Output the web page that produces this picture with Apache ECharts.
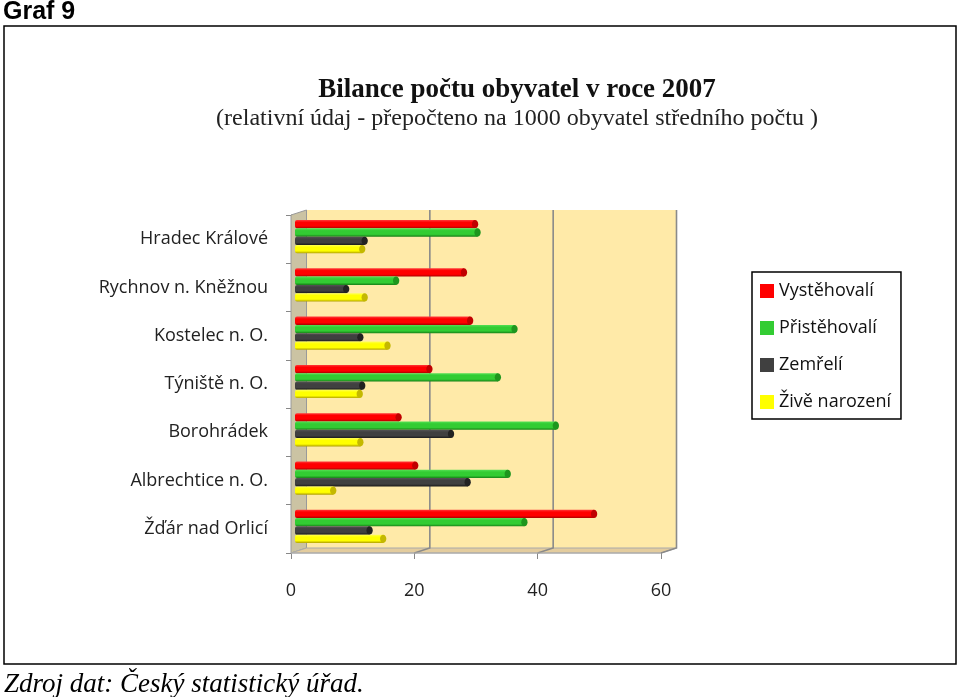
<!DOCTYPE html>
<html><head><meta charset="utf-8">
<script src="https://cdn.jsdelivr.net/npm/echarts@6/dist/echarts.min.js"></script>
<style>html,body{margin:0;padding:0;background:#fff}#c{width:959px;height:697px}</style>
</head><body><div id="c"></div>
<script>
const categories = ['Hradec Králové','Rychnov n. Kněžnou','Kostelec n. O.','Týniště n. O.','Borohrádek','Albrechtice n. O.','Žďár nad Orlicí'];
const seriesNames = ['Vystěhovalí','Přistěhovalí','Zemřelí','Živě narození'];
const vystehovali = [29.2, 27.4, 28.4, 21.8, 16.8, 19.5, 48.5];
const pristehovali = [29.6, 16.4, 35.6, 32.9, 42.3, 34.5, 37.2];
const zemreli = [11.3, 8.3, 10.6, 10.9, 25.3, 28.0, 12.1];
const zive = [10.9, 11.3, 15.0, 10.5, 10.6, 6.2, 14.3];
const xTicks = [0, 20, 40, 60];

(function(){
const palettes = [
  {c:'#FF0000', hi:'#FF3A3A', lo:'#A80000', cap:'#C00000'},
  {c:'#33CC33', hi:'#55E055', lo:'#168016', cap:'#1E961E'},
  {c:'#404040', hi:'#555555', lo:'#1A1A1A', cap:'#222222'},
  {c:'#FFFF00', hi:'#FFFF55', lo:'#B0A000', cap:'#C4B800'}
];
const allValues = [vystehovali, pristehovali, zemreli, zive];

function makeRender(si){
  const p = palettes[si];
  return function(params, api){
    const val = api.value(0), cat = api.value(1);
    const base = api.coord([0, cat]);
    const end = api.coord([val, cat]);
    const band = api.size([0, 1])[1];
    const pitch = band * 0.172;
    const h = pitch;
    const dx = 4;
    const yc = base[1] + (si - 1.5) * pitch - 2.5;
    const bx0 = base[0] + dx, bx1 = end[0] + dx;
    const rx = h * 0.38;
    return {
      type: 'group',
      children: [
        {type:'rect', shape:{x:bx0, y:yc - h/2, width:Math.max(0, bx1 - bx0), height:h, r:[2,0,0,2]},
         style:{fill:new echarts.graphic.LinearGradient(0,0,0,1,[
           {offset:0,color:p.hi},{offset:0.28,color:p.c},{offset:0.72,color:p.c},{offset:1,color:p.lo}])}},
        {type:'ellipse', shape:{cx:bx1, cy:yc, rx:rx, ry:h/2},
         style:{fill:p.cap}}
      ]
    };
  };
}

const chart = echarts.init(document.getElementById('c'));
const series = seriesNames.map((n, si) => ({
  name: n, type: 'custom', renderItem: makeRender(si), z: 5,
  itemStyle: {color: palettes[si].c},
  encode: {x: 0, y: 1},
  data: allValues[si].map((v, i) => [v, i])
}));

const gridLeft = 291, gridTop = 215, gridW = 370, gridH = 338;
chart.setOption({
  animation: false,
  title: [
    {text: 'Bilance počtu obyvatel v roce 2007', left: 512, top: 72, textAlign: 'center',
     textStyle: {fontFamily: 'Liberation Serif', fontWeight: 'bold', fontSize: 27, color: '#111'}},
    {text: '(relativní údaj - přepočteno na 1000 obyvatel středního počtu )', left: 512, top: 102, textAlign: 'center',
     textStyle: {fontFamily: 'Liberation Serif', fontWeight: 'normal', fontSize: 24, color: '#222'}}
  ],
  legend: {
    orient: 'vertical', left: 752, top: 272, width: 150,
    padding: [10, 10, 8, 8], itemGap: 19, itemWidth: 14, itemHeight: 14, icon: 'rect',
    borderColor: '#000', borderWidth: 1.5,
    textStyle: {fontFamily: 'Open Sans', fontSize: 18, color: '#111'},
    data: seriesNames
  },
  grid: {left: gridLeft, top: gridTop, width: gridW, height: gridH},
  xAxis: {
    type: 'value', min: 0, max: 60, interval: 20,
    axisLine: {show: false}, splitLine: {show: false},
    axisTick: {show: true, length: 6, lineStyle: {color: '#888'}},
    axisLabel: {margin: 29, fontFamily: 'Open Sans', fontSize: 18, color: '#222',
      formatter: v => xTicks.indexOf(v) >= 0 ? String(v) : ''}
  },
  yAxis: {
    type: 'category', data: categories, inverse: true,
    axisLine: {show: true, lineStyle: {color: '#888'}},
    axisTick: {show: true, length: 5, lineStyle: {color: '#888'}},
    axisLabel: {margin: 23, fontFamily: 'Open Sans', fontSize: 18, color: '#222'}
  },
  series: series
});

const dx = 15.5, dy = -5;
const px = v => chart.convertToPixel({xAxisIndex: 0}, v);
const yTop = gridTop, yBot = gridTop + gridH;
const x0 = px(0), x60 = px(60);
const g = [];
g.push({type:'rect', shape:{x:x0 + dx, y:yTop + dy, width:x60 - x0, height:gridH}, style:{fill:'#FFEAA8'}, z:0});
g.push({type:'polygon', shape:{points:[[x0, yTop],[x0+dx, yTop+dy],[x0+dx, yBot+dy],[x0, yBot]]}, style:{fill:'#CBC3A3', stroke:'#999', lineWidth:1}, z:1});
g.push({type:'polygon', shape:{points:[[x0, yBot],[x60, yBot],[x60+dx, yBot+dy],[x0+dx, yBot+dy]]}, style:{fill:'#E3CC9E', stroke:'#aaa', lineWidth:1}, z:1});
[20, 40, 60].forEach(v => {
  const x = px(v);
  g.push({type:'polyline', shape:{points:[[x+dx, yTop+dy],[x+dx, yBot+dy],[x, yBot]]}, style:{stroke:'#8a8a8a', lineWidth:1.6, fill:null}, z:1});
});
g.push({type:'line', shape:{x1:x0, y1:yBot, x2:x60, y2:yBot}, style:{stroke:'#aaa', lineWidth:1}, z:1});
g.push({type:'rect', shape:{x:4, y:26, width:952, height:638}, style:{fill:null, stroke:'#000', lineWidth:1.5}, z:0});
g.push({type:'text', left:3, top:0, style:{text:'Graf 9', font:'bold 25px "Liberation Sans"', fill:'#000'}});
g.push({type:'text', left:4, top:671, style:{text:'Zdroj dat: Český statistický úřad.', font:'italic 27px "Liberation Serif"', fill:'#000'}});
chart.setOption({graphic: g});
})();
</script>
</body></html>
